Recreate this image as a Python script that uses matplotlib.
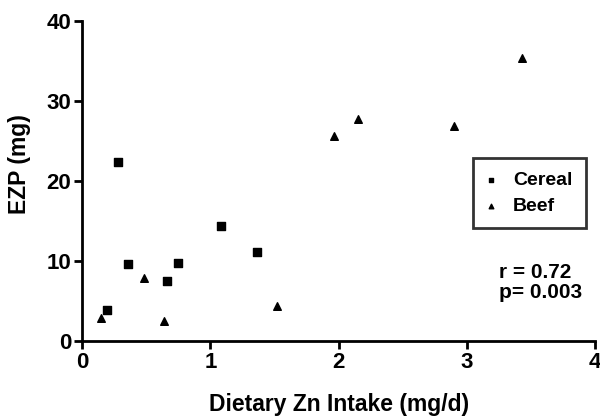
import matplotlib
matplotlib.use("Agg")
import matplotlib.pyplot as plt

plt.rcParams['font.family'] = ['Liberation Sans', 'DejaVu Sans']
plt.rcParams['font.weight'] = 'bold'

# Cereal group (squares)
cereal_x = [0.19, 0.28, 0.36, 0.66, 0.75, 1.08, 1.36]
cereal_y = [3.9, 22.3, 9.55, 7.5, 9.75, 14.3, 11.1]

# Beef group (triangles)
beef_x = [0.145, 0.485, 0.64, 1.52, 1.96, 2.15, 2.90, 3.43]
beef_y = [2.9, 7.8, 2.5, 4.4, 25.6, 27.7, 26.9, 35.4]

x_ticks = [0, 1, 2, 3, 4]
y_ticks = [0, 10, 20, 30, 40]

fig = plt.figure(figsize=(6, 4.17), dpi=100)
ax = fig.add_axes([0.137, 0.183, 0.855, 0.767])

ax.scatter(cereal_x, cereal_y, marker='s', s=32, color='black', label='Cereal', clip_on=False)
ax.scatter(beef_x, beef_y, marker='^', s=30, color='black', label='Beef', clip_on=False)

ax.set_xlim(0, 4)
ax.set_ylim(0, 40)
ax.set_xticks(x_ticks)
ax.set_yticks(y_ticks)
ax.tick_params(labelsize=16, width=2, length=5.5, pad=2.5, direction='out')
for lab in ax.get_xticklabels() + ax.get_yticklabels():
    lab.set_fontweight('bold')

for side in ['top', 'right']:
    ax.spines[side].set_visible(False)
for side in ['left', 'bottom']:
    ax.spines[side].set_linewidth(2)

ax.set_xlabel("Dietary Zn Intake (mg/d)", fontsize=16.5, fontweight='bold')
ax.set_ylabel("EZP (mg)", fontsize=16.5, fontweight='bold')
ax.xaxis.set_label_coords(0.5, -0.163)
ax.yaxis.set_label_coords(-0.099, 0.552)

leg = ax.legend(loc='upper left', bbox_to_anchor=(0.761, 0.571), fontsize=14,
                frameon=True, fancybox=False, edgecolor='black', markerscale=0.6,
                handlelength=0.5, handletextpad=0.9, borderpad=0.68,
                labelspacing=0.45, borderaxespad=0)
leg.get_frame().set_linewidth(2)
for t in leg.get_texts():
    t.set_fontweight('bold')

ax.text(0.812, 0.183, "r = 0.72\np= 0.003", transform=ax.transAxes, fontsize=15,
        fontweight='bold', va='center', ha='left', linespacing=1.05)

fig.savefig("out.png", dpi=100)
